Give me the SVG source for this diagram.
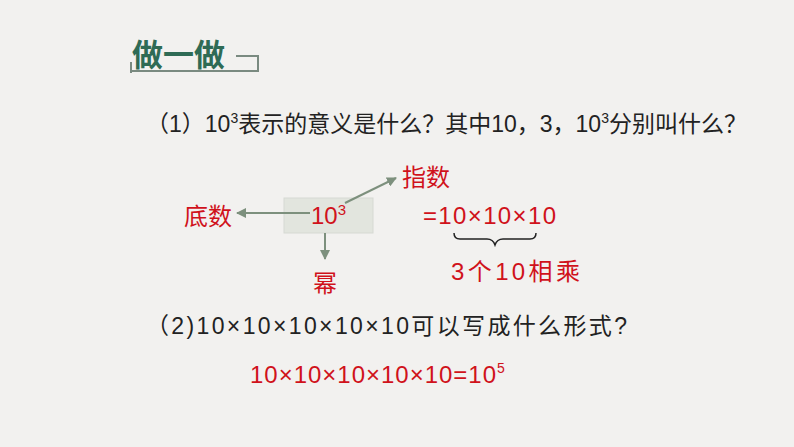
<svg xmlns="http://www.w3.org/2000/svg" width="794" height="447" viewBox="0 0 794 447">
<style>
.t{font-family:"Liberation Sans","Noto Sans CJK SC",sans-serif}
.k{fill:#222;font-size:23px}
.r{fill:#d0121b;font-size:24px}
.c{stroke:#7d907d;stroke-width:2;fill:none;marker-end:url(#a)}
</style>
<defs><marker id="a" viewBox="0 0 10 10" refX="9" refY="5" markerWidth="5" markerHeight="5" orient="auto"><path d="M0,0L10,5L0,10z" fill="#7d907d"/></marker></defs>
<rect width="794" height="447" fill="#f2f1ef"/>
<g id="title">
<path d="M131,73V62M131,71H258V56H236" stroke="#7a8a80" stroke-width="2" fill="none"/>
<text x="132" y="66" class="t" font-size="31" font-weight="bold" fill="#2f6b55">做一做</text>
</g>
<g id="q1"><text x="146" y="132" class="t k">（1）10<tspan font-size="14" dy="-9">3</tspan><tspan dy="9">表示的意义是什么？其中10，3，10</tspan><tspan font-size="14" dy="-9">3</tspan><tspan dy="9">分别叫什么？</tspan></text></g>
<g id="base"><rect x="284" y="198" width="89" height="35" fill="#e2e5de" stroke="#d6d9d3"/>
<text x="311" y="224" class="t r">10<tspan font-size="15" dy="-9">3</tspan></text></g>
<g id="dishu"><text x="184" y="225" class="t r">底数</text></g>
<g id="zhishu"><text x="402" y="186" class="t r">指数</text></g>
<g id="mi"><text x="313" y="292" class="t r">幂</text></g>
<g id="expand"><text x="423" y="224" class="t r" font-size="26" textLength="133" lengthAdjust="spacing">=10×10×10</text>
<path d="M454,233q0,6 6,6h27q6,0 8,6q2,-6 8,-6h27q6,0 6,-6" stroke="#222" stroke-width="1.5" fill="none"/>
<text x="451" y="280" class="t r" font-size="26" textLength="129" lengthAdjust="spacing">3个10相乘</text></g>
<g id="connectors">
<path class="c" d="M310,213H237"/>
<path class="c" d="M345,203L396,178"/>
<path class="c" d="M325,233V259"/>
</g>
<g id="q2"><text x="146" y="334" class="t k" font-size="26" textLength="481" lengthAdjust="spacing">（2)10×10×10×10×10可以写成什么形式?</text>
<text x="250" y="383" class="t r" font-size="26"><tspan textLength="246" lengthAdjust="spacing">10×10×10×10×10=10</tspan><tspan font-size="14" dy="-10">5</tspan></text></g>
</svg>
